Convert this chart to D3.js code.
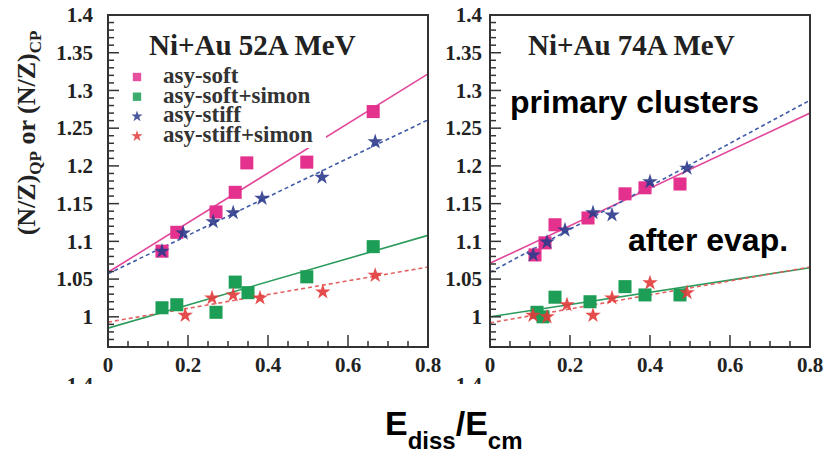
<!DOCTYPE html>
<html>
<head>
<meta charset="utf-8">
<script src="https://cdn.jsdelivr.net/npm/d3@7"></script>
<style>
  body { margin: 0; background: #fff; }
  svg { display: block; }
</style>
</head>
<body>
<div id="container"></div>
<script>
// tick labels
const xTicks = [0, 0.2, 0.4, 0.6, 0.8];
const yTicks = [1, 1.05, 1.1, 1.15, 1.2, 1.25, 1.3, 1.35, 1.4];
const panelTitles = ['Ni+Au 52A MeV', 'Ni+Au 74A MeV'];
const legendLabels = ['asy-soft', 'asy-soft+simon', 'asy-stiff', 'asy-stiff+simon'];

// Ni+Au 52A MeV : [Ediss/Ecm, N/Z]
const soft52 = [[0.135, 1.087], [0.172, 1.112], [0.27, 1.139], [0.318, 1.165], [0.347, 1.204], [0.497, 1.205], [0.663, 1.272]];
const softSimon52 = [[0.135, 1.012], [0.172, 1.016], [0.27, 1.006], [0.318, 1.046], [0.35, 1.032], [0.497, 1.053], [0.663, 1.093]];
const stiff52 = [[0.135, 1.087], [0.188, 1.111], [0.263, 1.126], [0.313, 1.138], [0.385, 1.157], [0.535, 1.185], [0.668, 1.232]];
const stiffSimon52 = [[0.193, 1.002], [0.26, 1.025], [0.313, 1.029], [0.38, 1.025], [0.537, 1.033], [0.668, 1.055]];

// Ni+Au 74A MeV
const soft74 = [[0.1125, 1.082], [0.1375, 1.098], [0.1625, 1.122], [0.245, 1.131], [0.3375, 1.163], [0.3875, 1.171], [0.475, 1.176]];
const softSimon74 = [[0.1175, 1.006], [0.1325, 1.0], [0.1625, 1.026], [0.25, 1.02], [0.3375, 1.04], [0.3875, 1.029], [0.475, 1.029]];
const stiff74 = [[0.108, 1.082], [0.1425, 1.099], [0.1875, 1.115], [0.2575, 1.138], [0.305, 1.135], [0.4, 1.179], [0.4925, 1.197]];
const stiffSimon74 = [[0.1075, 1.002], [0.1425, 1.0], [0.1925, 1.016], [0.2575, 1.002], [0.305, 1.025], [0.4, 1.045], [0.4925, 1.032]];

// linear fits: value at x=0 and at x=0.8
const fitX = [0, 0.8];
const fitSoft52 = [1.059, 1.322];
const fitSoftSimon52 = [0.985, 1.108];
const fitStiff52 = [1.057, 1.261];
const fitStiffSimon52 = [0.993, 1.066];
const fitSoft74 = [1.071, 1.27];
const fitSoftSimon74 = [1.0, 1.065];
const fitStiff74 = [1.059, 1.287];
const fitStiffSimon74 = [0.992, 1.066];

const W = 825, H = 453;
const frameColor = '#333';
const serif = '"Liberation Serif", "Times New Roman", serif';
const sans = '"Liberation Sans", Arial, sans-serif';

const styles = {
  soft:       {mark: 'square', fill: '#e3318d', line: '#e2479a', dash: null},
  softSimon:  {mark: 'square', fill: '#1c9e56', line: '#2b9b5c', dash: null},
  stiff:      {mark: 'star',   fill: '#2c3b8c', line: '#3f5aa8', dash: '4,3'},
  stiffSimon: {mark: 'star',   fill: '#e23a3a', line: '#e26262', dash: '4,3'}
};

const panels = [
  {x0: 108, x1: 428, labelGap: 15, title: panelTitles[0], titleX: 149,
   series: {soft: soft52, softSimon: softSimon52, stiff: stiff52, stiffSimon: stiffSimon52},
   fits: {soft: fitSoft52, softSimon: fitSoftSimon52, stiff: fitStiff52, stiffSimon: fitStiffSimon52},
   legend: true},
  {x0: 490, x1: 810, labelGap: 8, title: panelTitles[1], titleX: 528,
   series: {soft: soft74, softSimon: softSimon74, stiff: stiff74, stiffSimon: stiffSimon74},
   fits: {soft: fitSoft74, softSimon: fitSoftSimon74, stiff: fitStiff74, stiffSimon: fitStiffSimon74},
   legend: false}
];
const plotTop = 15, plotBottom = 347;

const svg = d3.select('#container')
  .append('svg')
  .attr('width', W)
  .attr('height', H);

const yScale = d3.scaleLinear().domain([0.96, 1.4]).range([plotBottom, plotTop]);

const square = d3.symbol().type(d3.symbolSquare);
const star = d3.symbol().type(d3.symbolStar);

panels.forEach((p, pi) => {
  const xScale = d3.scaleLinear().domain([0, 0.8]).range([p.x0, p.x1]);
  const g = svg.append('g');

  g.append('clipPath').attr('id', `clip${pi}`)
    .append('rect')
    .attr('x', p.x0).attr('y', plotTop)
    .attr('width', p.x1 - p.x0).attr('height', plotBottom - plotTop);

  // fit lines
  const line = d3.line().x(d => xScale(d[0])).y(d => yScale(d[1]));
  const lines = g.append('g').attr('clip-path', `url(#clip${pi})`);
  Object.keys(styles).forEach(k => {
    const pts = fitX.map((x, i) => [x, p.fits[k][i]]);
    lines.append('path')
      .attr('d', line(pts))
      .attr('fill', 'none')
      .attr('stroke', styles[k].line)
      .attr('stroke-width', 1.6)
      .attr('stroke-dasharray', styles[k].dash);
  });

  // legend (white box hides the line behind it)
  if (p.legend) {
    g.append('rect')
      .attr('x', 122).attr('y', 64)
      .attr('width', 204).attr('height', 84)
      .attr('fill', '#fff');
    const keys = ['soft', 'softSimon', 'stiff', 'stiffSimon'];
    keys.forEach((k, i) => {
      const yy = 83 + i * 19.7;
      g.append('path')
        .attr('transform', `translate(137,${yy - 6})`)
        .attr('d', styles[k].mark === 'square' ? square.size(70)() : star.size(40)())
        .attr('fill', styles[k].fill)
        .attr('opacity', 0.85);
      g.append('text')
        .attr('x', 163).attr('y', yy)
        .attr('font-family', serif)
        .attr('font-weight', 'bold')
        .attr('font-size', 23)
        .attr('fill', '#333')
        .text(legendLabels[i]);
    });
  }

  // markers: squares below, stars on top
  ['soft', 'softSimon', 'stiff', 'stiffSimon'].forEach(k => {
    const isSq = styles[k].mark === 'square';
    g.append('g')
      .selectAll('path')
      .data(p.series[k])
      .enter()
      .append('path')
      .attr('transform', d => `translate(${xScale(d[0])},${yScale(d[1])})`)
      .attr('d', isSq ? square.size(170)() : star.size(75)())
      .attr('fill', styles[k].fill)
      .attr('opacity', isSq ? 1 : 0.9);
  });

  // frame
  g.append('rect')
    .attr('x', p.x0).attr('y', plotTop)
    .attr('width', p.x1 - p.x0).attr('height', plotBottom - plotTop)
    .attr('fill', 'none')
    .attr('stroke', frameColor)
    .attr('stroke-width', 2);

  // y ticks (inside, left)
  const yMinor = d3.range(0, 45).map(i => 0.96 + i * 0.01);
  g.append('g')
    .selectAll('line')
    .data(yMinor)
    .enter()
    .append('line')
    .attr('x1', p.x0)
    .attr('x2', d => p.x0 + (Math.abs(d * 20 - Math.round(d * 20)) < 1e-6 ? 11 : 6))
    .attr('y1', d => yScale(d)).attr('y2', d => yScale(d))
    .attr('stroke', frameColor)
    .attr('stroke-width', 1.5);

  // x ticks (inside, bottom)
  const xMinor = d3.range(0, 17).map(i => i * 0.05);
  g.append('g')
    .selectAll('line')
    .data(xMinor)
    .enter()
    .append('line')
    .attr('x1', d => xScale(d)).attr('x2', d => xScale(d))
    .attr('y1', plotBottom)
    .attr('y2', d => plotBottom - (Math.abs(d * 5 - Math.round(d * 5)) < 1e-6 ? 12 : 6))
    .attr('stroke', frameColor)
    .attr('stroke-width', 1.5);

  // tick labels
  g.append('g')
    .selectAll('text')
    .data(yTicks)
    .enter()
    .append('text')
    .attr('x', p.x0 - p.labelGap)
    .attr('y', d => yScale(d))
    .attr('dy', '0.34em')
    .attr('text-anchor', 'end')
    .attr('font-family', serif)
    .attr('font-weight', 'bold')
    .attr('font-size', 21)
    .attr('fill', '#222')
    .text(d => d3.format('')(d));

  g.append('g')
    .selectAll('text')
    .data(xTicks)
    .enter()
    .append('text')
    .attr('x', d => xScale(d))
    .attr('y', 372)
    .attr('text-anchor', 'middle')
    .attr('font-family', serif)
    .attr('font-weight', 'bold')
    .attr('font-size', 21)
    .attr('fill', '#222')
    .text(d => d3.format('')(d));

  // top of the next panel's "1.4", cut off
  g.append('clipPath').attr('id', `cut${pi}`)
    .append('rect').attr('x', 0).attr('y', 374).attr('width', W).attr('height', 10);
  g.append('text')
    .attr('x', p.x0 - p.labelGap)
    .attr('y', 392)
    .attr('text-anchor', 'end')
    .attr('clip-path', `url(#cut${pi})`)
    .attr('font-family', serif)
    .attr('font-weight', 'bold')
    .attr('font-size', 21)
    .attr('fill', '#222')
    .text('1.4');

  // panel title
  g.append('text')
    .attr('x', p.titleX).attr('y', 55)
    .attr('font-family', serif)
    .attr('font-weight', 'bold')
    .attr('font-size', 29)
    .attr('fill', '#222')
    .text(p.title);
});

// annotations in the right panel
svg.append('text')
  .attr('x', 510).attr('y', 113)
  .attr('font-family', sans).attr('font-weight', 'bold')
  .attr('font-size', 32).attr('fill', '#000')
  .text('primary clusters');
svg.append('text')
  .attr('x', 628).attr('y', 251)
  .attr('font-family', sans).attr('font-weight', 'bold')
  .attr('font-size', 32).attr('fill', '#000')
  .text('after evap.');

// y axis title
const yTitle = svg.append('text')
  .attr('transform', 'translate(35,133) rotate(-90)')
  .attr('text-anchor', 'middle')
  .attr('font-family', serif)
  .attr('font-weight', 'bold')
  .attr('font-size', 26)
  .attr('fill', '#222');
yTitle.append('tspan').text('(N/Z)');
yTitle.append('tspan').attr('dy', 6).attr('font-size', 17).text('QP');
yTitle.append('tspan').attr('dy', -6).text(' or (N/Z)');
yTitle.append('tspan').attr('dy', 6).attr('font-size', 17).text('CP');

// x axis title
const xTitle = svg.append('text')
  .attr('x', 385).attr('y', 435)
  .attr('font-family', sans)
  .attr('font-weight', 'bold')
  .attr('font-size', 34)
  .attr('fill', '#000');
xTitle.append('tspan').text('E');
xTitle.append('tspan').attr('dy', 14).attr('font-size', 24).text('diss');
xTitle.append('tspan').attr('dy', -14).text('/E');
xTitle.append('tspan').attr('dy', 14).attr('font-size', 24).text('cm');
</script>
</body>
</html>
